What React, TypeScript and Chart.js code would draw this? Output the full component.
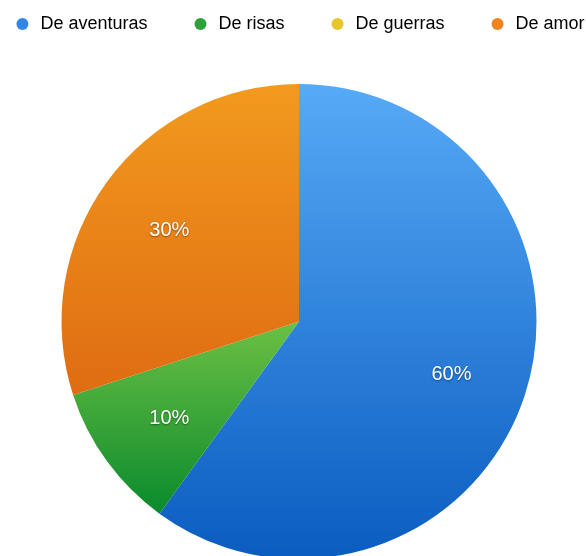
import { useEffect, useRef } from "react";
import { Chart, registerables } from "chart.js";

Chart.register(...registerables);

const categories = ["De aventuras", "De risas", "De guerras", "De amor"];
const values = [60, 10, 0, 30];
const legendColors = ["#2f86e6", "#2ea23a", "#e8c52a", "#ee8420"];
const gradientTop = ["#56aaf6", "#6cc044", "#f0d040", "#f29a1e"];
const gradientBottom = ["#0a5cc0", "#0a8a2c", "#d8b018", "#df6c12"];

const PIE_RADIUS = 237.5;

function sliceYRange(index: number, cy: number, r: number): [number, number] {
  const total = values.reduce((a, b) => a + b, 0);
  let start = 0;
  for (let i = 0; i < index; i++) start += values[i];
  const a0 = -Math.PI / 2 + (start / total) * Math.PI * 2;
  const a1 = a0 + (values[index] / total) * Math.PI * 2;
  const ys = [cy, cy + r * Math.sin(a0), cy + r * Math.sin(a1)];
  for (const ext of [-Math.PI / 2, Math.PI / 2, (3 * Math.PI) / 2]) {
    if (ext >= a0 && ext <= a1) ys.push(cy + r * Math.sin(ext));
  }
  return [Math.min(...ys), Math.max(...ys)];
}

const percentLabels = {
  id: "percentLabels",
  afterDatasetsDraw(chart: any) {
    const meta = chart.getDatasetMeta(0);
    const total = values.reduce((a, b) => a + b, 0);
    const ctx = chart.ctx;
    ctx.save();
    ctx.font = '20px "Liberation Sans", Arial, sans-serif';
    ctx.fillStyle = "#ffffff";
    ctx.textAlign = "center";
    ctx.textBaseline = "middle";
    ctx.shadowColor = "rgba(0,0,0,0.45)";
    ctx.shadowBlur = 2;
    ctx.shadowOffsetX = 0;
    ctx.shadowOffsetY = 1;
    meta.data.forEach((arc: any, i: number) => {
      const v = values[i];
      if (!v) return;
      const { x, y, startAngle, endAngle, outerRadius } = arc.getProps(
        ["x", "y", "startAngle", "endAngle", "outerRadius"],
        true
      );
      const mid = (startAngle + endAngle) / 2;
      const rr = outerRadius * 0.675;
      ctx.fillText(
        Math.round((v / total) * 100) + "%",
        x + Math.cos(mid) * rr,
        y + Math.sin(mid) * rr + 3
      );
    });
    ctx.restore();
  },
};

export default function App() {
  const canvasRef = useRef<HTMLCanvasElement | null>(null);

  useEffect(() => {
    if (!canvasRef.current) return;
    const chart = new Chart(canvasRef.current, {
      type: "pie",
      data: {
        labels: categories,
        datasets: [
          {
            data: values,
            borderWidth: 0,
            radius: PIE_RADIUS,
            backgroundColor: (context: any) => {
              const c = context.chart;
              const area = c.chartArea;
              const i = context.dataIndex;
              if (!area || i === undefined) return legendColors[i ?? 0];
              const cy = (area.top + area.bottom) / 2;
              const [y0, y1] = sliceYRange(i, cy, PIE_RADIUS);
              if (y1 - y0 < 1) return legendColors[i];
              const g = c.ctx.createLinearGradient(0, y0, 0, y1);
              g.addColorStop(0, gradientTop[i]);
              g.addColorStop(1, gradientBottom[i]);
              return g;
            },
          },
        ],
      },
      options: {
        animation: false,
        responsive: false,
        layout: { padding: 0 },
        plugins: {
          tooltip: { enabled: false },
          legend: {
            position: "top",
            labels: {
              usePointStyle: true,
              boxWidth: 18,
              boxHeight: 8.5,
              padding: 44,
              color: "#222222",
              font: { size: 18, family: '"Liberation Sans", Arial, sans-serif' },
              generateLabels: (c: any) =>
                categories.map((text, i) => ({
                  text,
                  fillStyle: legendColors[i],
                  strokeStyle: legendColors[i],
                  lineWidth: 0,
                  pointStyle: "circle",
                  hidden: !c.getDataVisibility(i),
                  index: i,
                })),
            },
          },
        },
      },
      plugins: [percentLabels],
    });
    return () => chart.destroy();
  }, []);

  return (
    <div style={{ position: "fixed", inset: 0, overflow: "hidden", background: "#fff" }}>
      <div style={{ position: "absolute", left: -51, top: -29, width: 700, height: 629 }}>
        <canvas ref={canvasRef} width={700} height={629} style={{ width: 700, height: 629 }} />
      </div>
    </div>
  );
}
